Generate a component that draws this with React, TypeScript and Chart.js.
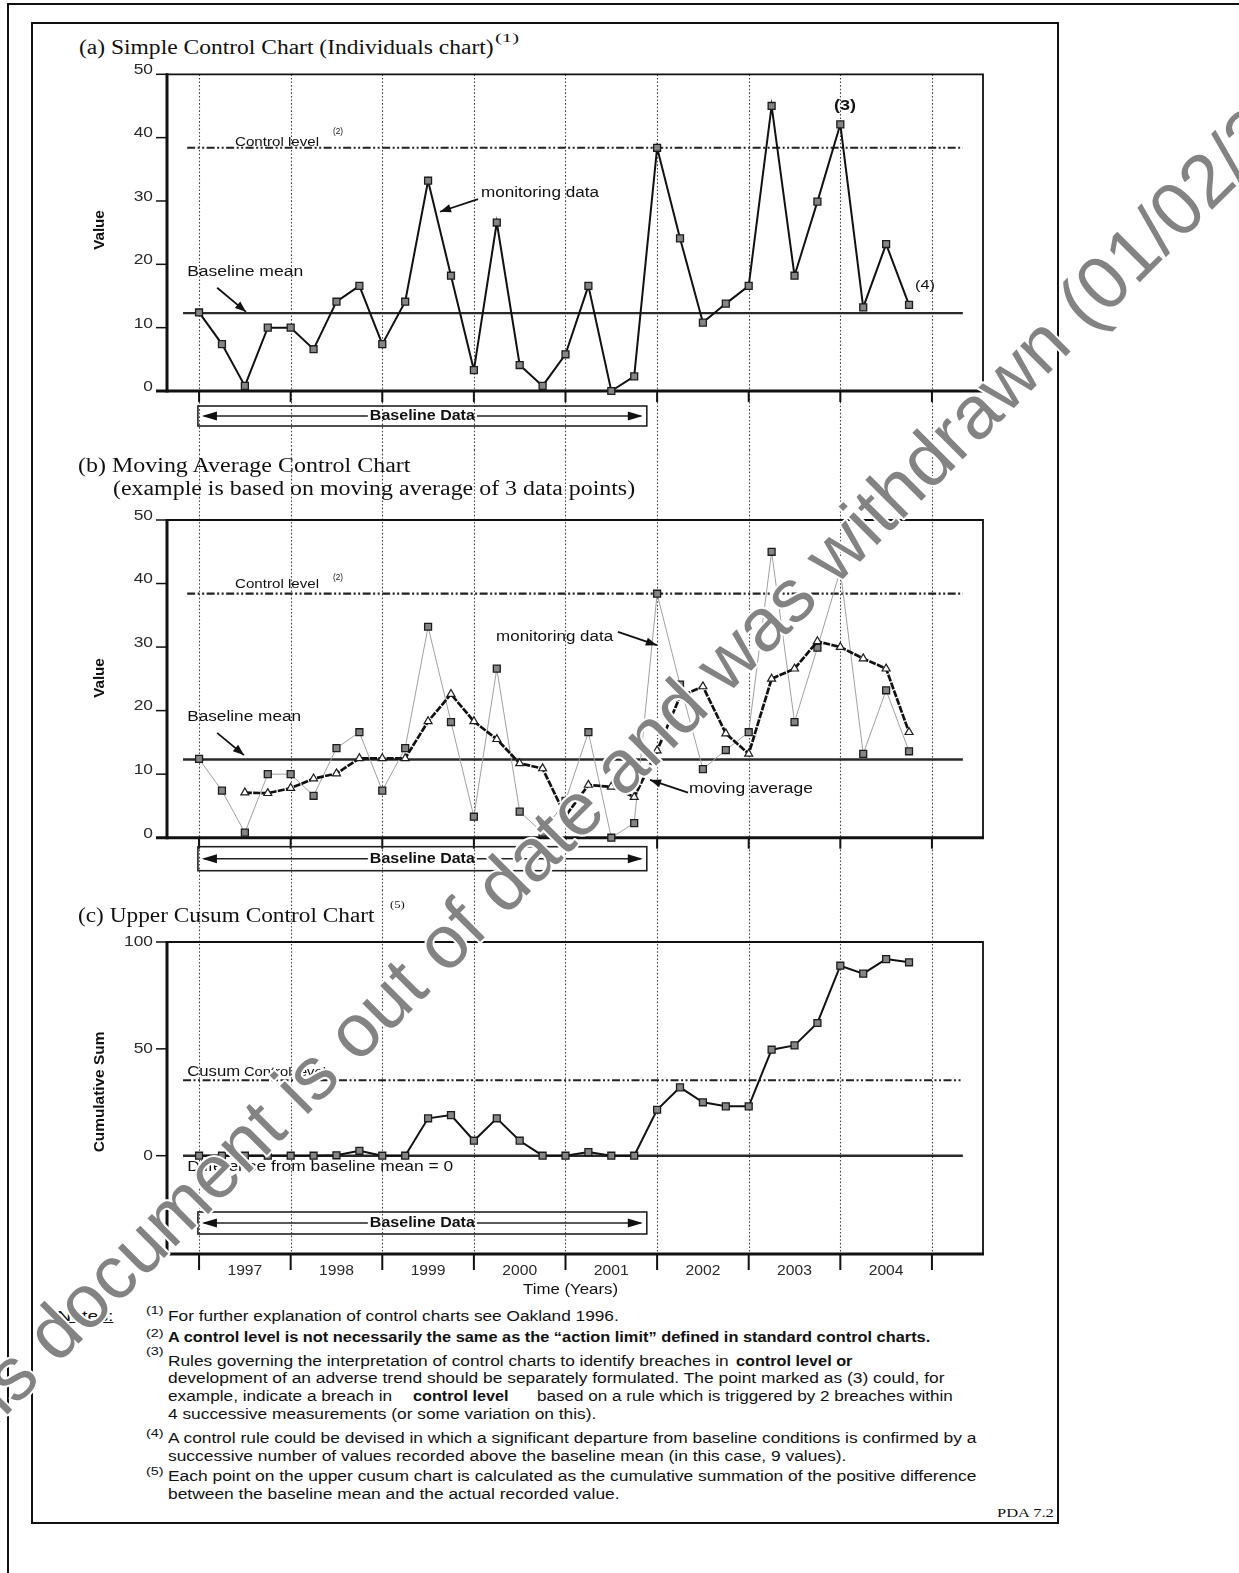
import React, { useEffect, useLayoutEffect, useRef } from 'react';
import { Chart, registerables } from 'chart.js';

Chart.register(...registerables);

// ---------------- data ----------------
const YEARS = ['1997', '1998', '1999', '2000', '2001', '2002', '2003', '2004'];
const QUARTERS_PER_YEAR = 4;
const MONITORING = [12.4, 7.4, 0.8, 10.0, 10.0, 6.6, 14.1, 16.6, 7.4, 14.1, 33.2, 18.2, 3.3, 26.6, 4.1, 0.8, 5.8, 16.6, 0.0, 2.3, 38.4, 24.1, 10.8, 13.8, 16.6, 45.0, 18.2, 29.9, 42.1, 13.2, 23.2, 13.6];
const MOVING_AVG_FIRST_INDEX = 2;
const MOVING_AVG = [7.1, 7.0, 7.8, 9.3, 10.1, 12.5, 12.5, 12.5, 18.3, 22.6, 18.3, 15.5, 11.7, 10.9, 3.4, 8.3, 8.0, 6.4, 13.7, 22.2, 23.8, 16.4, 13.2, 25.0, 26.6, 30.9, 30.0, 28.2, 26.6, 16.6];
const CUSUM = [0, 0, 0, 0, 0, 0, 0.2, 2.3, 0, 0, 17.5, 19.0, 7.0, 17.5, 7.0, 0, 0, 1.7, 0, 0, 21.5, 32.0, 25.0, 23.1, 23.1, 49.6, 51.6, 62.1, 88.9, 85.2, 92.0, 90.5];
const BASELINE_MEAN = 12.3;
const CONTROL_LEVEL = 38.4;
const CUSUM_CONTROL_LEVEL = 35.3;
const CUSUM_ZERO = 0;
const BASELINE_PERIOD = [-0.05, 19.55];
const VALUE_TICKS = [0, 10, 20, 30, 40, 50];
const CUSUM_TICKS = [0, 50, 100];
const VALUE_RANGE = [0, 50];
const CUSUM_RANGE = [-46, 100];
const X_RANGE = [-1.4, 34.23];

// ---------------- layout / style ----------------
const PAGE_W = 1239;
const PAGE_H = 1573;
const PLOT_LEFT = 167;
const PLOT_RIGHT = 983;
const SANS = '"Liberation Sans", Arial, sans-serif';
const SERIF = '"Liberation Serif", "Times New Roman", serif';
const INK = '#111';
const DASH_DOT_DOT = [8, 2.5, 2, 2.5, 2, 2.5];

type Pt = [number, number];
interface Label { at: Pt; text: string; size: number; w: number; bold?: boolean; align?: 'left' | 'center'; }
interface HLine { value: number; from: number; to: number; width: number; dash: number[]; color: string; }
interface DecorCfg {
  gridFrom: 'canvas' | 'area';
  gridTo: 'canvas' | 'area';
  yTicks: number[];
  yLabelDy: number;
  xTickLen: number;
  yearLabels: boolean;
  hlines: HLine[];
  box: { top: number; bottom: number };
  labels: Label[];
  arrows: [Pt, Pt][];
}

function drawFit(ctx: CanvasRenderingContext2D, text: string, x: number, y: number, size: number,
  opt: { w?: number; sx?: number; bold?: boolean; align?: string; color?: string } = {}) {
  ctx.save();
  ctx.font = `${opt.bold ? 'bold ' : ''}${size}px ${SANS}`;
  const m = ctx.measureText(text).width;
  const sx = opt.w ? opt.w / m : (opt.sx ?? 1);
  const w = m * sx;
  const left = opt.align === 'center' ? x - w / 2 : opt.align === 'right' ? x - w : x;
  ctx.translate(left, y);
  ctx.scale(sx, 1);
  ctx.fillStyle = opt.color ?? INK;
  ctx.textAlign = 'left';
  ctx.textBaseline = 'middle';
  ctx.fillText(text, 0, 0);
  ctx.restore();
  return [left, left + w];
}

function arrowHead(ctx: CanvasRenderingContext2D, x0: number, y0: number, x1: number, y1: number, len: number, half: number) {
  const a = Math.atan2(y1 - y0, x1 - x0);
  const c = Math.cos(a), s = Math.sin(a);
  ctx.beginPath();
  ctx.moveTo(x1, y1);
  ctx.lineTo(x1 - len * c + half * s, y1 - len * s - half * c);
  ctx.lineTo(x1 - len * c - half * s, y1 - len * s + half * c);
  ctx.closePath();
  ctx.fill();
}

function line(ctx: CanvasRenderingContext2D, x0: number, y0: number, x1: number, y1: number) {
  ctx.beginPath();
  ctx.moveTo(x0, y0);
  ctx.lineTo(x1, y1);
  ctx.stroke();
}

function decorPlugin(cfg: DecorCfg) {
  return {
    id: 'decor',
    beforeDatasetsDraw(chart: any) {
      const ctx: CanvasRenderingContext2D = chart.ctx;
      const xs = chart.scales.x;
      const ys = chart.scales.y;
      const { left, right, top, bottom } = chart.chartArea;
      ctx.save();
      // dotted year boundaries
      const gTop = cfg.gridFrom === 'canvas' ? 0 : top;
      const gBot = cfg.gridTo === 'canvas' ? chart.height : bottom;
      ctx.strokeStyle = '#444';
      ctx.lineWidth = 1.1;
      ctx.setLineDash([1.6, 2]);
      for (let k = 0; k <= YEARS.length; k++) {
        const x = Math.round(xs.getPixelForValue(k * QUARTERS_PER_YEAR)) + 0.5;
        line(ctx, x, gTop, x, gBot);
      }
      // reference lines
      cfg.hlines.forEach((h) => {
        ctx.setLineDash(h.dash);
        ctx.lineWidth = h.width;
        ctx.strokeStyle = h.color;
        const y = ys.getPixelForValue(h.value);
        line(ctx, xs.getPixelForValue(h.from), y, xs.getPixelForValue(h.to), y);
      });
      ctx.setLineDash([]);
      // frame
      ctx.strokeStyle = INK;
      ctx.lineWidth = 1.8;
      ctx.beginPath();
      ctx.moveTo(left, top);
      ctx.lineTo(right, top);
      ctx.lineTo(right, bottom);
      ctx.stroke();
      ctx.lineWidth = 3;
      line(ctx, left, top - 1, left, bottom + 1.5);
      line(ctx, left - 11, bottom, right + 1, bottom);
      // y ticks + labels
      ctx.lineWidth = 1.5;
      cfg.yTicks.forEach((v) => {
        const y = ys.getPixelForValue(v);
        line(ctx, left - 11, y, left, y);
        drawFit(ctx, String(v), left - 14, y + cfg.yLabelDy, 14, { sx: 1.24, align: 'right', color: '#2a2a2a' });
      });
      // x ticks (year boundaries) + year labels
      ctx.lineWidth = 2;
      for (let k = 0; k <= YEARS.length; k++) {
        const x = xs.getPixelForValue(k * QUARTERS_PER_YEAR);
        line(ctx, x, bottom, x, bottom + cfg.xTickLen);
      }
      if (cfg.yearLabels) {
        YEARS.forEach((yr, k) => {
          const x = xs.getPixelForValue(k * QUARTERS_PER_YEAR + QUARTERS_PER_YEAR / 2);
          drawFit(ctx, yr, x, bottom + 17, 14, { sx: 1.12, align: 'center', color: '#2a2a2a' });
        });
      }
      ctx.restore();
    },
    afterDatasetsDraw(chart: any) {
      const ctx: CanvasRenderingContext2D = chart.ctx;
      const xs = chart.scales.x;
      const ys = chart.scales.y;
      const { bottom } = chart.chartArea;
      ctx.save();
      // Baseline Data box
      const bx0 = xs.getPixelForValue(BASELINE_PERIOD[0]);
      const bx1 = xs.getPixelForValue(BASELINE_PERIOD[1]);
      const by0 = bottom + cfg.box.top;
      const by1 = bottom + cfg.box.bottom;
      const bym = (by0 + by1) / 2;
      ctx.strokeStyle = '#222';
      ctx.fillStyle = INK;
      ctx.lineWidth = 1.6;
      ctx.strokeRect(bx0, by0, bx1 - bx0, by1 - by0);
      const [tl, tr] = drawFit(ctx, 'Baseline Data', (bx0 + bx1) / 2, bym, 14, { w: 105, bold: true, align: 'center' });
      ctx.lineWidth = 1.4;
      line(ctx, bx0 + 6, bym, tl - 2, bym);
      line(ctx, tr + 2, bym, bx1 - 6, bym);
      arrowHead(ctx, bx0 + 20, bym, bx0 + 4, bym, 15, 4.5);
      arrowHead(ctx, bx1 - 20, bym, bx1 - 4, bym, 15, 4.5);
      // labels
      cfg.labels.forEach((l) => {
        drawFit(ctx, l.text, xs.getPixelForValue(l.at[0]), ys.getPixelForValue(l.at[1]), l.size,
          { w: l.w, bold: l.bold, align: l.align ?? 'left' });
      });
      // annotation arrows
      ctx.lineWidth = 1.8;
      ctx.strokeStyle = INK;
      cfg.arrows.forEach(([a, b]) => {
        const x0 = xs.getPixelForValue(a[0]), y0 = ys.getPixelForValue(a[1]);
        const x1 = xs.getPixelForValue(b[0]), y1 = ys.getPixelForValue(b[1]);
        line(ctx, x0, y0, x1, y1);
        arrowHead(ctx, x0, y0, x1, y1, 11, 4.2);
      });
      ctx.restore();
    },
  };
}

const squareSeries = (values: number[], first: number, color: string, width: number) => ({
  data: values.map((v, i) => ({ x: i + first, y: v })),
  borderColor: color,
  borderWidth: width,
  pointStyle: 'rect',
  pointRadius: 4.9,
  pointBackgroundColor: '#858585',
  pointBorderColor: '#1c1c1c',
  pointBorderWidth: 1.3,
  tension: 0,
  clip: false,
});

function makeConfig(datasets: any[], yRange: number[], padTop: number, padBottom: number, decor: DecorCfg) {
  return {
    type: 'line',
    data: { datasets },
    options: {
      animation: false,
      responsive: false,
      events: [],
      layout: { padding: { left: PLOT_LEFT, right: PAGE_W - PLOT_RIGHT, top: padTop, bottom: padBottom } },
      scales: {
        x: { type: 'linear', min: X_RANGE[0], max: X_RANGE[1], display: false },
        y: { type: 'linear', min: yRange[0], max: yRange[1], display: false },
      },
      plugins: { legend: { display: false }, tooltip: { enabled: false } },
    },
    plugins: [decorPlugin(decor)],
  } as any;
}

const meanLine = (from: number): HLine => ({ value: BASELINE_MEAN, from, to: 33.35, width: 2.4, dash: [], color: '#2a2a2a' });
const controlLine = (value: number, from: number): HLine => ({ value, from, to: 33.35, width: 2.2, dash: DASH_DOT_DOT, color: '#222' });

const CHARTS = [
  {
    key: 'a', top: 60, height: 390, plotTop: 74.3, plotBottom: 391,
    datasets: () => [squareSeries(MONITORING, 0, INK, 2)],
    yRange: VALUE_RANGE,
    decor: {
      gridFrom: 'area', gridTo: 'canvas', yTicks: VALUE_TICKS, yLabelDy: -4, xTickLen: 11, yearLabels: false,
      hlines: [meanLine(-0.7), controlLine(CONTROL_LEVEL, -0.52)],
      box: { top: 15, bottom: 35 },
      labels: [
        { at: [1.57, 39.3], text: 'Control level', size: 13, w: 84 },
        { at: [5.85, 40.9], text: '(2)', size: 9, w: 10 },
        { at: [-0.52, 18.8], text: 'Baseline mean', size: 14, w: 116 },
        { at: [12.31, 31.3], text: 'monitoring data', size: 14, w: 118 },
        { at: [28.2, 45.0], text: '(3)', size: 14, w: 22, bold: true, align: 'center' },
        { at: [31.26, 16.7], text: '(4)', size: 13, w: 20 },
      ],
      arrows: [[[0.79, 16.3], [2.05, 12.5]], [[12.18, 30.3], [10.52, 28.3]]],
    } as DecorCfg,
  },
  {
    key: 'b', top: 450, height: 440, plotTop: 520, plotBottom: 837.7,
    datasets: () => [
      {
        data: MOVING_AVG.map((v, i) => ({ x: i + MOVING_AVG_FIRST_INDEX, y: v })),
        borderColor: INK,
        borderWidth: 2.7,
        borderDash: [7, 1.3],
        pointStyle: 'triangle',
        pointRadius: 4.6,
        pointBackgroundColor: '#ffffff',
        pointBorderColor: '#1c1c1c',
        pointBorderWidth: 1.2,
        tension: 0,
        clip: false,
      },
      squareSeries(MONITORING, 0, '#a0a0a0', 1),
    ],
    yRange: VALUE_RANGE,
    decor: {
      gridFrom: 'canvas', gridTo: 'canvas', yTicks: VALUE_TICKS, yLabelDy: -4, xTickLen: 11, yearLabels: false,
      hlines: [meanLine(-0.7), controlLine(CONTROL_LEVEL, -0.52)],
      box: { top: 9, bottom: 33 },
      labels: [
        { at: [1.57, 39.8], text: 'Control level', size: 13, w: 84 },
        { at: [5.85, 41.0], text: '(2)', size: 9, w: 10 },
        { at: [-0.52, 19.0], text: 'Baseline mean', size: 14, w: 114 },
        { at: [12.97, 31.6], text: 'monitoring data', size: 14, w: 117 },
        { at: [21.39, 7.7], text: 'moving average', size: 14, w: 124 },
      ],
      arrows: [[[0.79, 16.5], [1.96, 13.0]], [[18.29, 32.4], [19.99, 30.3]], [[21.35, 7.1], [19.69, 9.1]]],
    } as DecorCfg,
  },
  {
    key: 'c', top: 890, height: 400, plotTop: 942, plotBottom: 1254,
    datasets: () => [squareSeries(CUSUM, 0, INK, 2)],
    yRange: CUSUM_RANGE,
    decor: {
      gridFrom: 'canvas', gridTo: 'area', yTicks: CUSUM_TICKS, yLabelDy: 0, xTickLen: 16, yearLabels: true,
      hlines: [
        { value: CUSUM_ZERO, from: -0.7, to: 33.35, width: 2.4, dash: [], color: '#2a2a2a' },
        controlLine(CUSUM_CONTROL_LEVEL, -0.7),
      ],
      box: { top: -42, bottom: -20 },
      labels: [
        { at: [-0.52, 39.2], text: 'Cusum', size: 15, w: 53 },
        { at: [1.96, 38.7], text: 'Control level', size: 12, w: 82 },
        { at: [-0.52, -5.3], text: 'Difference from baseline mean = 0', size: 15, w: 266 },
      ],
      arrows: [],
    } as DecorCfg,
  },
];

function ChartCanvas({ spec }: { spec: typeof CHARTS[number] }) {
  const ref = useRef<HTMLCanvasElement>(null);
  useEffect(() => {
    const c = ref.current;
    if (!c) return;
    const padTop = spec.plotTop - spec.top;
    const padBottom = spec.height - (spec.plotBottom - spec.top);
    const chart = new Chart(c, makeConfig(spec.datasets(), spec.yRange, padTop, padBottom, spec.decor));
    return () => chart.destroy();
  }, []);
  return (
    <canvas ref={ref} width={PAGE_W} height={spec.height}
      style={{ position: 'absolute', left: 0, top: spec.top, width: PAGE_W, height: spec.height }} />
  );
}

function FitText({ x, y, w, size, family = SANS, weight = 400, underline = false, align = 'left', children }:
  { x: number; y: number; w: number; size: number; family?: string; weight?: number; underline?: boolean; align?: string; children: React.ReactNode }) {
  const ref = useRef<HTMLSpanElement>(null);
  useLayoutEffect(() => {
    const el = ref.current;
    if (!el) return;
    const nat = el.offsetWidth || 1;
    el.style.transform = `scaleX(${w / nat})`;
  }, [w]);
  return (
    <span ref={ref} style={{
      position: 'absolute', left: align === 'center' ? x - w / 2 : x, top: y - size * 0.62,
      fontSize: size, lineHeight: `${size * 1.2}px`, fontFamily: family, fontWeight: weight,
      whiteSpace: 'pre', transformOrigin: '0 50%', color: INK,
      textDecoration: underline ? 'underline' : 'none',
    }}>{children}</span>
  );
}

function RotText({ x, y, w, size, children }: { x: number; y: number; w: number; size: number; children: React.ReactNode }) {
  const ref = useRef<HTMLSpanElement>(null);
  useLayoutEffect(() => {
    const el = ref.current;
    if (!el) return;
    const nat = el.offsetWidth || 1;
    el.style.transform = `translate(-50%, -50%) rotate(-90deg) scaleX(${w / nat})`;
  }, [w]);
  return (
    <span ref={ref} style={{
      position: 'absolute', left: x, top: y, fontSize: size, lineHeight: `${size * 1.2}px`,
      fontFamily: SANS, fontWeight: 700, whiteSpace: 'nowrap', transformOrigin: 'center', color: INK,
    }}>{children}</span>
  );
}

const NOTE_MARKS = [
  { mark: '(1)', y: 1311 },
  { mark: '(2)', y: 1334 },
  { mark: '(3)', y: 1352 },
  { mark: '(4)', y: 1434 },
  { mark: '(5)', y: 1472 },
];

const NOTE_LINES: { y: number; segs: { x: number; w: number; text: string; bold?: boolean }[] }[] = [
  { y: 1317, segs: [{ x: 168, w: 451, text: 'For further explanation of control charts see Oakland 1996.' }] },
  { y: 1338, segs: [{ x: 168, w: 762, text: 'A control level is not necessarily the same as the \u201caction limit\u201d defined in standard control charts.', bold: true }] },
  { y: 1362, segs: [
    { x: 168, w: 561, text: 'Rules governing the interpretation of control charts to identify breaches in' },
    { x: 736, w: 116, text: 'control level or', bold: true },
  ] },
  { y: 1379, segs: [{ x: 168, w: 776, text: 'development of an adverse trend should be separately formulated. The point marked as (3) could, for' }] },
  { y: 1397, segs: [
    { x: 168, w: 224, text: 'example, indicate a breach in' },
    { x: 413, w: 95, text: 'control level', bold: true },
    { x: 537, w: 416, text: 'based on a rule which is triggered by 2 breaches within' },
  ] },
  { y: 1415, segs: [{ x: 168, w: 428, text: '4 successive measurements (or some variation on this).' }] },
  { y: 1439, segs: [{ x: 168, w: 808, text: 'A control rule could be devised in which a significant departure from baseline conditions is confirmed by a' }] },
  { y: 1457, segs: [{ x: 168, w: 678, text: 'successive number of values recorded above the baseline mean (in this case, 9 values).' }] },
  { y: 1477, segs: [{ x: 168, w: 808, text: 'Each point on the upper cusum chart is calculated as the cumulative summation of the positive difference' }] },
  { y: 1495, segs: [{ x: 168, w: 451, text: 'between the baseline mean and the actual recorded value.' }] },
];

export default function App() {
  useEffect(() => {
    document.documentElement.style.overflow = 'hidden';
    document.body.style.margin = '0';
  }, []);
  return (
    <div style={{ position: 'absolute', left: 0, top: 0, width: PAGE_W, height: PAGE_H, overflow: 'hidden', background: '#fff' }}>
      {/* page frames */}
      <div style={{ position: 'absolute', left: 7, top: 3, width: PAGE_W, height: PAGE_H, borderLeft: '2.5px solid #111', borderTop: '2.5px solid #111' }} />
      <div style={{ position: 'absolute', left: 31, top: 22, width: 1028, height: 1502, boxSizing: 'border-box', border: '2.5px solid #111' }} />

      {CHARTS.map((c) => <ChartCanvas key={c.key} spec={c} />)}

      {/* titles */}
      <FitText x={79} y={47} w={415} size={20} family={SERIF}>(a) Simple Control Chart (Individuals chart)</FitText>
      <FitText x={495} y={38} w={24} size={12} family={SERIF}>(1)</FitText>
      <FitText x={78} y={465} w={332} size={20} family={SERIF}>(b) Moving Average Control Chart</FitText>
      <FitText x={113} y={488} w={522} size={20} family={SERIF}>(example is based on moving average of 3 data points)</FitText>
      <FitText x={78} y={915} w={296} size={20} family={SERIF}>(c) Upper Cusum Control Chart</FitText>
      <FitText x={390} y={905} w={15} size={11} family={SERIF}>(5)</FitText>

      {/* axis titles */}
      <RotText x={99} y={230} w={40} size={14}>Value</RotText>
      <RotText x={99} y={678} w={40} size={14}>Value</RotText>
      <RotText x={99} y={1092} w={121} size={14}>Cumulative Sum</RotText>
      <FitText x={570} y={1290} w={95} size={14} align="center">Time (Years)</FitText>

      {/* notes */}
      <FitText x={57} y={1316} w={56} size={15} underline>Notes:</FitText>
      {NOTE_MARKS.map((m) => (
        <FitText key={m.mark} x={146} y={m.y} w={17} size={11}>{m.mark}</FitText>
      ))}
      {NOTE_LINES.map((l, i) => l.segs.map((s, j) => (
        <FitText key={`${i}-${j}`} x={s.x} y={l.y} w={s.w} size={14} weight={s.bold ? 700 : 400}>{s.text}</FitText>
      )))}
      <FitText x={997} y={1513} w={57} size={13} family={SERIF}>PDA 7.2</FitText>

      {/* watermark */}
      <svg width={PAGE_W} height={PAGE_H} style={{ position: 'absolute', left: 0, top: 0, pointerEvents: 'none' }}>
        <text x={-58} y={1480} transform="rotate(-45 -58 1480)" fontFamily={SANS} fontSize={75}
          fill="#838383" stroke="#ffffff" strokeWidth={4} strokeLinejoin="round" style={{ paintOrder: 'stroke' }}>
          This document is out of date and was withdrawn (01/02/20
        </text>
      </svg>
    </div>
  );
}
